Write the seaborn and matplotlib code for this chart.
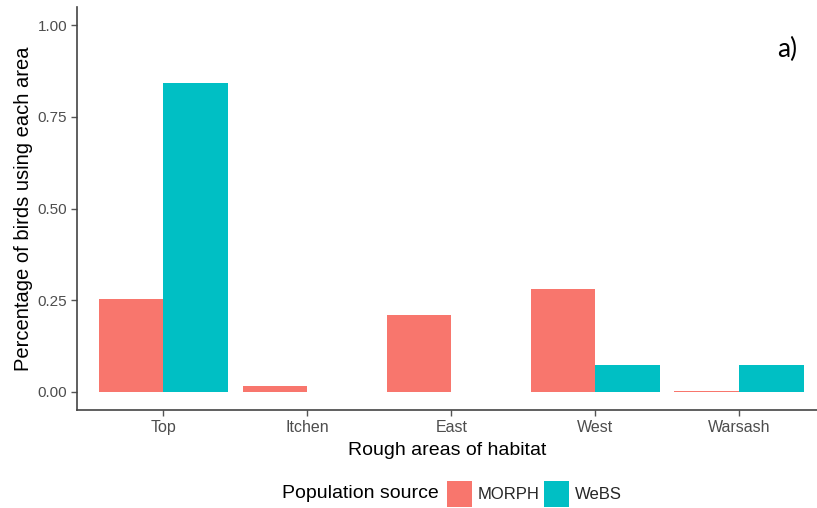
import pandas as pd
import numpy as np
import matplotlib
matplotlib.use('Agg')
import matplotlib.pyplot as plt
import seaborn as sns
from matplotlib.patches import Patch

areas = ['Top', 'Itchen', 'East', 'West', 'Warsash']
morph = [0.253, 0.015, 0.208, 0.281, 0.002]
webs = [0.842, 0.0, 0.0, 0.074, 0.074]
sources = ['MORPH', 'WeBS']
COLORS = {'MORPH': '#F8766D', 'WeBS': '#00BFC4'}

df = pd.DataFrame({
    'area': areas * 2,
    'source': [sources[0]] * len(areas) + [sources[1]] * len(areas),
    'value': morph + webs,
})

sns.set_theme(style='white')
plt.rcParams['font.family'] = ['Liberation Sans', 'DejaVu Sans']

fig = plt.figure(figsize=(8.17, 5.08), dpi=100)
ax = fig.add_axes([77 / 817, 1 - 410 / 508, 1 - 77 / 817, (410 - 7) / 508])

sns.barplot(data=df, x='area', y='value', hue='source', order=areas,
            hue_order=sources, palette=COLORS, width=0.9, linewidth=0,
            saturation=1, legend=False, ax=ax)

ax.set_xlim(-0.6, 4.54)
ax.set_ylim(-0.05, 1.05)
ax.set_yticks([0, 0.25, 0.5, 0.75, 1.0])
ax.set_yticklabels(['0.00', '0.25', '0.50', '0.75', '1.00'])
ax.set_xlabel('Rough areas of habitat', fontsize=14, color='black', labelpad=5)
ax.set_ylabel('Percentage of birds using each area', fontsize=14.5, color='black', labelpad=3)
ax.tick_params(axis='x', labelsize=11.5)
ax.tick_params(axis='y', labelsize=11)
ax.tick_params(axis='both', which='both', length=4, width=1, color='#555555',
               labelcolor='#4d4d4d', bottom=True, left=True, pad=3)
for side in ['top', 'right']:
    ax.spines[side].set_visible(False)
for side in ['left', 'bottom']:
    ax.spines[side].set_color('#444444')
    ax.spines[side].set_linewidth(1.2)

fig.text(787 / 817, 1 - 49 / 508, 'a)', fontsize=19, family=['Lato', 'DejaVu Sans'],
         ha='center', va='center', color='black')

# legend at bottom, title on the left like ggplot
fig.text(282 / 817, 1 - 494 / 508, 'Population source', fontsize=14,
         ha='left', va='center', color='black')
handles = [Patch(facecolor=COLORS[s], edgecolor='none', label=s) for s in sources]
fig.legend(handles=handles, ncol=2, loc='center left',
           bbox_to_anchor=(447 / 817, 1 - 494 / 508), frameon=False,
           fontsize=12, handlelength=1.5, handleheight=2.0,
           handletextpad=0.36, columnspacing=0.24, borderaxespad=0, borderpad=0)

plt.savefig('out.png', dpi=100)
plt.close()
